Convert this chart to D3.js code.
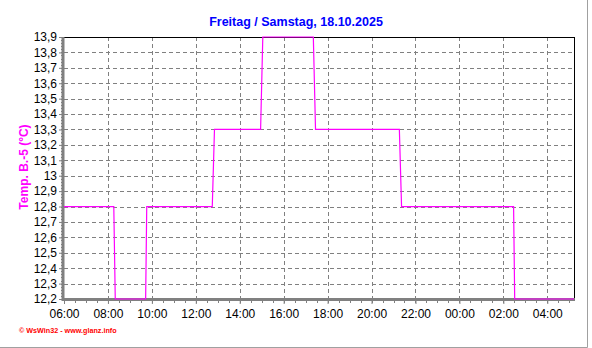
<!DOCTYPE html>
<html><head><meta charset="utf-8">
<script src="https://cdn.jsdelivr.net/npm/d3@7"></script>
<style>body{margin:0;background:#fff}svg{display:block}text{font-family:"Liberation Sans",Arial,sans-serif}</style>
</head><body>
<script>
const title = "Freitag / Samstag, 18.10.2025";
const yLabel = "Temp. B.-5 (°C)";
const footer = "© WsWin32 - www.glanz.info";
const xStart = "2025-10-17T06:00";
const xEnd = "2025-10-18T05:13";
const xTickHours = ["06:00","08:00","10:00","12:00","14:00","16:00","18:00","20:00","22:00","00:00","02:00","04:00"];
const yTicks = [12.2,12.3,12.4,12.5,12.6,12.7,12.8,12.9,13.0,13.1,13.2,13.3,13.4,13.5,13.6,13.7,13.8,13.9];
// step data: times and values (values outside range are drawn at the border)
const times = ["2025-10-17T06:00","2025-10-17T08:16","2025-10-17T08:20","2025-10-17T09:43","2025-10-17T09:46",
  "2025-10-17T12:45","2025-10-17T12:51","2025-10-17T14:57","2025-10-17T15:03","2025-10-17T17:21","2025-10-17T17:27",
  "2025-10-17T21:16","2025-10-17T21:22","2025-10-18T02:28","2025-10-18T02:31","2025-10-18T05:13"];
const values = [12.8,12.8,11.8,11.8,12.8,12.8,13.3,13.3,14.3,14.3,13.3,13.3,12.8,12.8,11.8,11.8];

const W=592,H=348;
const svg=d3.select("body").append("svg").attr("width",W).attr("height",H);
const L=63,R=574,T=37,B=299;
const parse=d3.timeParse("%Y-%m-%dT%H:%M");
const x=d3.scaleTime().domain([parse(xStart),parse(xEnd)]).range([L+1,R]);
const y=d3.scaleLinear().domain([12.2,13.9]).range([B,T]).clamp(true);

// frame
svg.append("line").attr("x1",587.5).attr("x2",587.5).attr("y1",0).attr("y2",347.5).attr("stroke","#a0a0a0");
svg.append("line").attr("x1",0).attr("x2",587.5).attr("y1",347.5).attr("y2",347.5).attr("stroke","#a0a0a0");

// title
svg.append("text").attr("x",296).attr("y",26).attr("text-anchor","middle").attr("font-size",12.5).attr("font-weight","bold").attr("fill","#0000ff").text(title);

const xTickDates = xTickHours.map((h,i)=>d3.timeHour.offset(parse(xStart),i*2));
// grid
const g=svg.append("g");
g.selectAll(".hg").data(yTicks.slice(1)).join("line")
 .attr("x1",L+1).attr("x2",R).attr("y1",d=>Math.round(y(d))+0.5).attr("y2",d=>Math.round(y(d))+0.5)
 .attr("stroke","#808080").attr("stroke-dasharray","4,3");
g.selectAll(".vg").data(xTickDates.slice(1)).join("line")
 .attr("x1",d=>Math.round(x(d))+0.5).attr("x2",d=>Math.round(x(d))+0.5).attr("y1",T).attr("y2",B)
 .attr("stroke","#808080").attr("stroke-dasharray","4,3");

// top & right border
svg.append("line").attr("x1",L).attr("x2",R+1).attr("y1",T+0.5).attr("y2",T+0.5).attr("stroke","#000");
svg.append("line").attr("x1",R+0.5).attr("x2",R+0.5).attr("y1",T).attr("y2",B+1).attr("stroke","#000");

// axes
const yAxis=d3.axisLeft(y).tickValues(yTicks).tickSize(4).tickPadding(2).tickFormat(d=>d3.format(".1f")(d).replace(".0","").replace(".",","));
const ya=svg.append("g").attr("transform",`translate(${L},0)`).call(yAxis);
ya.select(".domain").remove();
ya.selectAll(".tick line").attr("stroke","#808080");
ya.selectAll("text").attr("font-size",12).attr("fill","#000");
const yMinor=d3.range(12.2,13.9001,0.02);
svg.append("g").selectAll("line").data(yMinor).join("line").attr("x1",L-2).attr("x2",L).attr("y1",d=>Math.round(y(d))+0.5).attr("y2",d=>Math.round(y(d))+0.5).attr("stroke","#808080");
svg.append("line").attr("x1",L).attr("x2",L).attr("y1",T).attr("y2",B+2).attr("stroke","#808080").attr("stroke-width",3);

const xAxis=d3.axisBottom(x).tickValues(xTickDates).tickSize(5).tickPadding(5).tickFormat((d,i)=>xTickHours[i]);
const xa=svg.append("g").attr("transform",`translate(0,${B})`).call(xAxis);
xa.select(".domain").remove();
xa.selectAll(".tick line").attr("stroke","#808080");
xa.selectAll("text").attr("font-size",12).attr("fill","#000");
const xMinor=d3.timeMinute.every(30).range(parse(xStart),parse(xEnd));
svg.append("g").selectAll("line").data(xMinor).join("line").attr("x1",d=>Math.round(x(d))+0.5).attr("x2",d=>Math.round(x(d))+0.5).attr("y1",B).attr("y2",B+4).attr("stroke","#808080");
svg.append("line").attr("x1",L-1).attr("x2",R+1).attr("y1",B+0.5).attr("y2",B+0.5).attr("stroke","#808080").attr("stroke-width",3);

// data line (drawn on top of the frame)
svg.append("defs").append("clipPath").attr("id","c").append("rect").attr("x",L+1).attr("y",T-1).attr("width",R-L).attr("height",B-T+2);
const line=d3.line().x((d,i)=>x(parse(times[i]))).y(d=>y(d));
svg.append("path").attr("d",line(values)).attr("fill","none").attr("stroke","#ff00ff").attr("stroke-width",1.2).attr("clip-path","url(#c)");

// y label
svg.append("text").attr("transform","translate(28,167) rotate(-90)").attr("text-anchor","middle").attr("font-size",12).attr("font-weight","bold").attr("fill","#ff00ff").text(yLabel);

// footer
svg.append("text").attr("x",19).attr("y",333).attr("font-size",7.2).attr("font-weight","bold").attr("fill","#ff0000").text(footer);
</script>
</body></html>
